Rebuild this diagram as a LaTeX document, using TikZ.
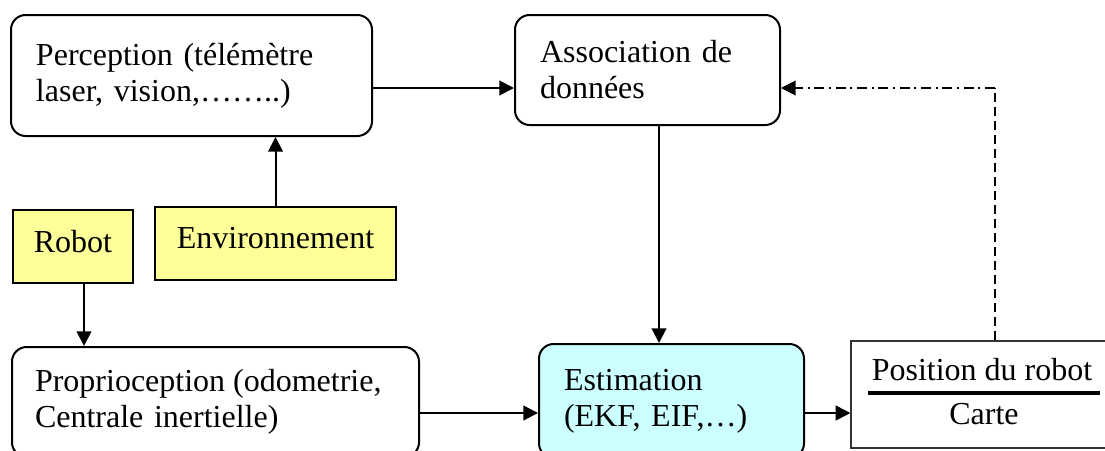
\documentclass[tikz,border=0pt]{standalone}
\usepackage{fontspec}
\setmainfont{Liberation Serif}
\usetikzlibrary{arrows.meta}
\definecolor{boxyellow}{HTML}{FFFF99}
\definecolor{boxcyan}{HTML}{CCFFFF}
\tikzset{
  txt/.style={font=\fontsize{24pt}{27pt}\selectfont},
  rbox/.style={txt, draw=black, line width=1.5pt, rounded corners=11pt, align=left, inner ysep=0pt},
  ybox/.style={txt, draw=black, line width=1.5pt, fill=boxyellow, inner sep=0pt, text depth=8pt},
  arr/.style={line width=1.5pt, -{Triangle[length=11pt,width=11pt]}},
  dashdot/.style={dash pattern=on 7.5pt off 3.5pt on 1.5pt off 3.5pt},
  dashonly/.style={dash pattern=on 7pt off 3.5pt},
}
\begin{document}
\begin{tikzpicture}[x=0.75pt,y=-0.75pt]
\useasboundingbox (0,0) rectangle (1105,450);
\clip (0,0) rectangle (1105,450);
\fill[white] (0,0) rectangle (1105,450);

\node[rbox, minimum width=270.75pt, minimum height=90.75pt, text width=233.25pt, inner xsep=18.75pt] (perc) at (191.5,75.5)
  {Perception (télémètre\\laser, vision,……..)};
\node[rbox, minimum width=198.75pt, minimum height=82.5pt, text width=161.25pt, inner xsep=18.75pt] (assoc) at (647.5,70)
  {Association de\\données};
\node[ybox, minimum width=90pt, minimum height=54.75pt] (robot) at (73,246.5) {Robot};
\node[ybox, minimum width=180.75pt, minimum height=54.75pt] (env) at (275.5,243.5) {Environnement};
\node[rbox, minimum width=305.25pt, minimum height=82.5pt, text width=270.75pt, inner xsep=17.25pt] (proprio) at (215.5,402)
  {Proprioception\hspace{-2pt} (odometrie,\\Centrale inertielle)};
\node[rbox, fill=boxcyan, minimum width=198.75pt, minimum height=85.5pt, text width=161.25pt, inner xsep=18.75pt] (estim) at (671.5,401)
  {Estimation\\(EKF, EIF,…)};
\node[draw=black!80, line width=0.9pt, minimum width=199.5pt, minimum height=80.25pt, inner sep=0pt] (pos) at (984,394.5) {};
\node[txt, anchor=base, inner sep=0pt] (posA) at (982,380) {Position du robot};
\node[txt, anchor=base, inner sep=0pt] (posB) at (984,424) {Carte};
\draw[line width=3pt] (868,393) -- (1100,393);

\coordinate (ya) at (0,88);
\coordinate (yb) at (0,413);
\coordinate (xr) at (84,0);
\coordinate (xv) at (659,0);
\coordinate (xd) at (995,0);

\draw[arr] (perc.east |- ya) -- (assoc.west |- ya);
\draw[arr] (env.north) -- (env.north |- perc.south);
\draw[arr] (xr |- robot.south) -- (xr |- proprio.north);
\draw[arr] (xv |- assoc.south) -- (xv |- estim.north);
\draw[arr] (proprio.east |- yb) -- (estim.west |- yb);
\draw[arr] (estim.east |- yb) -- (pos.west |- yb);
\draw[line width=1.5pt, dashonly] (xd |- pos.north) -- (xd |- ya);
\draw[arr, dashdot] (xd |- ya) -- (assoc.east |- ya);
\end{tikzpicture}
\end{document}
